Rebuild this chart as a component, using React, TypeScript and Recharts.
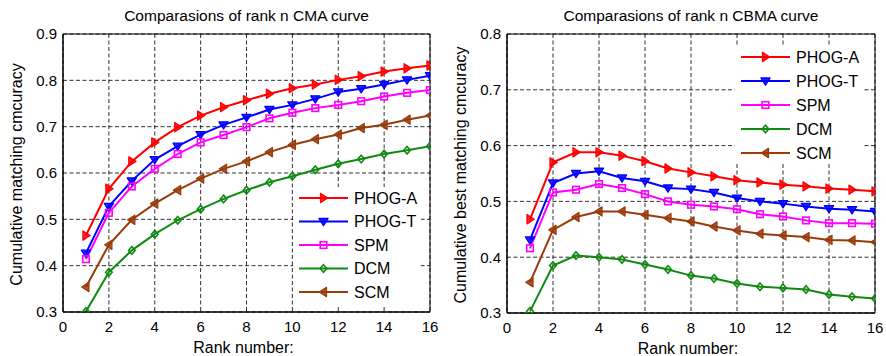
import React from 'react';
import { LineChart, Line, XAxis, YAxis, CartesianGrid, ReferenceArea, Legend } from 'recharts';

const ranks = [1, 2, 3, 4, 5, 6, 7, 8, 9, 10, 11, 12, 13, 14, 15, 16];
const xTicks = [0, 2, 4, 6, 8, 10, 12, 14, 16];
const cmaYTicks = [0.3, 0.4, 0.5, 0.6, 0.7, 0.8, 0.9];
const cbmaYTicks = [0.3, 0.4, 0.5, 0.6, 0.7, 0.8];

const seriesNames = ['PHOG-A', 'PHOG-T', 'SPM', 'DCM', 'SCM'];

// CMA (left chart)
const cmaPhogA = [0.465, 0.566, 0.625, 0.666, 0.699, 0.724, 0.742, 0.757, 0.771, 0.783, 0.791, 0.801, 0.809, 0.819, 0.826, 0.832];
const cmaPhogT = [0.427, 0.528, 0.583, 0.629, 0.658, 0.683, 0.704, 0.72, 0.737, 0.747, 0.76, 0.775, 0.782, 0.791, 0.801, 0.81];
const cmaSpm = [0.414, 0.514, 0.571, 0.609, 0.641, 0.666, 0.682, 0.699, 0.718, 0.73, 0.74, 0.747, 0.755, 0.765, 0.773, 0.779];
const cmaDcm = [0.301, 0.386, 0.433, 0.468, 0.498, 0.522, 0.544, 0.563, 0.58, 0.593, 0.607, 0.62, 0.63, 0.641, 0.649, 0.658];
const cmaScm = [0.354, 0.445, 0.499, 0.534, 0.563, 0.588, 0.609, 0.625, 0.645, 0.661, 0.673, 0.683, 0.697, 0.704, 0.715, 0.724];

// CBMA (right chart)
const cbmaPhogA = [0.468, 0.57, 0.588, 0.588, 0.582, 0.572, 0.559, 0.552, 0.545, 0.538, 0.534, 0.53, 0.527, 0.523, 0.521, 0.518];
const cbmaPhogT = [0.431, 0.533, 0.55, 0.554, 0.542, 0.536, 0.524, 0.522, 0.516, 0.506, 0.5, 0.496, 0.491, 0.487, 0.485, 0.482];
const cbmaSpm = [0.416, 0.516, 0.521, 0.531, 0.524, 0.513, 0.5, 0.494, 0.491, 0.486, 0.477, 0.473, 0.466, 0.461, 0.461, 0.46];
const cbmaDcm = [0.303, 0.385, 0.403, 0.4, 0.396, 0.387, 0.378, 0.367, 0.362, 0.353, 0.347, 0.345, 0.342, 0.333, 0.329, 0.326];
const cbmaScm = [0.355, 0.449, 0.472, 0.482, 0.482, 0.476, 0.47, 0.464, 0.455, 0.448, 0.442, 0.439, 0.436, 0.431, 0.43, 0.427];

const FONT = '"Liberation Sans", Arial, sans-serif';

type Shape = 'triRight' | 'triDown' | 'square' | 'diamond' | 'triLeft';
const seriesStyle: { key: string; color: string; shape: Shape }[] = [
  { key: 'a', color: '#ff0000', shape: 'triRight' },
  { key: 't', color: '#0000ff', shape: 'triDown' },
  { key: 's', color: '#ff00ff', shape: 'square' },
  { key: 'd', color: '#108a10', shape: 'diamond' },
  { key: 'c', color: '#9a3b0c', shape: 'triLeft' },
];

function buildRows(a: number[], t: number[], s: number[], d: number[], c: number[]) {
  return ranks.map((r, i) => ({ rank: r, a: a[i], t: t[i], s: s[i], d: d[i], c: c[i] }));
}

const cmaRows = buildRows(cmaPhogA, cmaPhogT, cmaSpm, cmaDcm, cmaScm);
const cbmaRows = buildRows(cbmaPhogA, cbmaPhogT, cbmaSpm, cbmaDcm, cbmaScm);

function Marker({ shape, cx, cy, color }: { shape: Shape; cx?: number; cy?: number; color: string }) {
  if (cx == null || cy == null || isNaN(cx) || isNaN(cy)) return null;
  const hollow = { fill: 'none', stroke: color, strokeWidth: 1.6 };
  const tri = { fill: color, fillOpacity: 0.85, stroke: color, strokeWidth: 1.3, strokeLinejoin: 'round' as const };
  switch (shape) {
    case 'triRight':
      return <polygon points={`${cx - 3},${cy - 4.6} ${cx - 3},${cy + 4.6} ${cx + 4.2},${cy}`} {...tri} />;
    case 'triLeft':
      return <polygon points={`${cx + 3},${cy - 4.6} ${cx + 3},${cy + 4.6} ${cx - 4.2},${cy}`} {...tri} />;
    case 'triDown':
      return <polygon points={`${cx - 4.6},${cy - 3} ${cx + 4.6},${cy - 3} ${cx},${cy + 4.2}`} {...tri} />;
    case 'square':
      return <rect x={cx - 3.3} y={cy - 3.3} width={6.6} height={6.6} {...hollow} />;
    case 'diamond':
      return <polygon points={`${cx},${cy - 3.8} ${cx + 3.3},${cy} ${cx},${cy + 3.8} ${cx - 3.3},${cy}`} {...hollow} />;
  }
  return null;
}

const makeLegend = (gap: number) => () => (
  <svg width={128} height={118} style={{ display: 'block' }}>
    {seriesStyle.map((s, i) => {
      const y = 11 + i * gap;
      return (
        <g key={s.key}>
          <line x1={6} x2={55} y1={y} y2={y} stroke={s.color} strokeWidth={2} />
          <Marker shape={s.shape} cx={30.5} cy={y} color={s.color} />
          <text x={61} y={y} dy="0.355em" fontSize={16} fontFamily={FONT} fill="#000">
            {seriesNames[i]}
          </text>
        </g>
      );
    })}
  </svg>
);

function ChartPanel(props: {
  rows: any[];
  yTicks: number[];
  yDomain: [number, number];
  title: string;
  yLabel: string;
  yAxisWidth: number;
  rightMargin: number;
  xAxisHeight: number;
  yLabelX: number;
  legendLeft: number;
  legendTop: number;
  legendGap: number;
}) {
  const { rows, yTicks, yDomain, title, yLabel, yAxisWidth, rightMargin, xAxisHeight, yLabelX } = props;
  const plotLeft = yAxisWidth;
  const plotWidth = 443 - yAxisWidth - rightMargin;
  return (
    <div style={{ position: 'relative', width: 443, height: 356 }}>
      <div
        style={{
          position: 'absolute',
          left: plotLeft,
          width: plotWidth,
          top: 8,
          textAlign: 'center',
          fontFamily: FONT,
          fontSize: 15.5,
          lineHeight: '15px',
          color: '#000',
          whiteSpace: 'nowrap',
        }}
      >
        {title}
      </div>
      <LineChart
        width={443}
        height={356}
        data={rows}
        margin={{ top: 34, right: rightMargin, bottom: 0, left: 0 }}
        style={{ position: 'absolute', left: 0, top: 0 }}
      >
        <CartesianGrid stroke="#1a1a1a" strokeDasharray="4 2.5" strokeWidth={0.9} />
        <XAxis
          dataKey="rank"
          type="number"
          domain={[0, 16]}
          ticks={xTicks}
          height={xAxisHeight}
          stroke="#000"
          tickLine={false}
          tickSize={6}
          tickMargin={3}
          tick={{ fontSize: 15, fontFamily: FONT, fill: '#000' }}
          allowDataOverflow
          label={{
            value: 'Rank number:',
            content: (p: any) => {
              const vb = p.viewBox || {};
              return (
                <text
                  x={vb.x + vb.width / 2 - 3}
                  y={vb.y + 41}
                  textAnchor="middle"
                  fontSize={16}
                  fontFamily={FONT}
                  fill="#000"
                >
                  Rank number:
                </text>
              );
            },
          }}
        />
        <XAxis
          xAxisId="bottomTicks"
          dataKey="rank"
          type="number"
          domain={[0, 16]}
          ticks={xTicks}
          orientation="bottom"
          mirror
          height={0}
          axisLine={false}
          tick={false}
          tickSize={4}
          stroke="#000"
        />
        <XAxis
          xAxisId="topTicks"
          dataKey="rank"
          type="number"
          domain={[0, 16]}
          ticks={xTicks}
          orientation="top"
          mirror
          height={0}
          axisLine={false}
          tick={false}
          tickSize={4}
          stroke="#000"
        />
        <YAxis
          type="number"
          domain={yDomain}
          ticks={yTicks}
          width={yAxisWidth}
          stroke="#000"
          tickLine={false}
          tickSize={6}
          tickMargin={0}
          allowDataOverflow
          tickFormatter={(v: number) => v.toFixed(1)}
          tick={{ fontSize: 15, fontFamily: FONT, fill: '#000' }}
          label={{
            value: yLabel,
            content: (p: any) => {
              const vb = p.viewBox || {};
              const cy = vb.y + vb.height / 2 + 1.5;
              return (
                <text
                  x={yLabelX}
                  y={cy}
                  textAnchor="middle"
                  fontSize={16}
                  fontFamily={FONT}
                  fill="#000"
                  transform={`rotate(-90, ${yLabelX}, ${cy})`}
                >
                  {yLabel}
                </text>
              );
            },
          }}
        />
        <YAxis
          yAxisId="leftTicks"
          type="number"
          domain={yDomain}
          ticks={yTicks}
          orientation="left"
          mirror
          width={0}
          axisLine={false}
          tick={false}
          tickSize={4}
          stroke="#000"
        />
        <YAxis
          yAxisId="rightTicks"
          type="number"
          domain={yDomain}
          ticks={yTicks}
          orientation="right"
          mirror
          width={0}
          axisLine={false}
          tick={false}
          tickSize={4}
          stroke="#000"
        />
        <ReferenceArea
          x1={0}
          x2={16}
          y1={yDomain[0]}
          y2={yDomain[1]}
          fill="none"
          fillOpacity={0}
          stroke="#000"
          strokeWidth={1}
          ifOverflow="visible"
        />
        {seriesStyle.map((s) => (
          <Line
            key={s.key}
            dataKey={s.key}
            type="linear"
            stroke={s.color}
            strokeWidth={2}
            isAnimationActive={false}
            dot={(dp: any) => <Marker key={`${s.key}-${dp.index}`} shape={s.shape} cx={dp.cx} cy={dp.cy} color={s.color} />}
            activeDot={false}
          />
        ))}
        <Legend
          layout="vertical"
          align="center"
          verticalAlign="middle"
          content={makeLegend(props.legendGap)}
          wrapperStyle={{
            left: props.legendLeft,
            top: props.legendTop,
            width: 128,
            height: 118,
            background: '#fff',
            margin: 0,
            padding: 0,
          }}
        />
      </LineChart>
    </div>
  );
}

export default function App() {
  return (
    <div style={{ position: 'absolute', left: 0, top: 0, width: 886, height: 356, background: '#fff' }}>
      <div style={{ position: 'absolute', left: 0, top: 0 }}>
        <ChartPanel
          rows={cmaRows}
          yTicks={cmaYTicks}
          yDomain={[0.3, 0.9]}
          title="Comparasions of rank n CMA curve"
          yLabel="Cumulative matching cmcuracy"
          yAxisWidth={63}
          rightMargin={13}
          xAxisHeight={44}
          yLabelX={21.5}
          legendLeft={293}
          legendTop={187}
          legendGap={23.5}
        />
      </div>
      <div style={{ position: 'absolute', left: 443, top: 0 }}>
        <ChartPanel
          rows={cbmaRows}
          yTicks={cbmaYTicks}
          yDomain={[0.3, 0.8]}
          title="Comparasions of rank n CBMA curve"
          yLabel="Cumulative best matching cmcuracy"
          yAxisWidth={64}
          rightMargin={11}
          xAxisHeight={43}
          yLabelX={22.5}
          legendLeft={292}
          legendTop={46}
          legendGap={24}
        />
      </div>
    </div>
  );
}
